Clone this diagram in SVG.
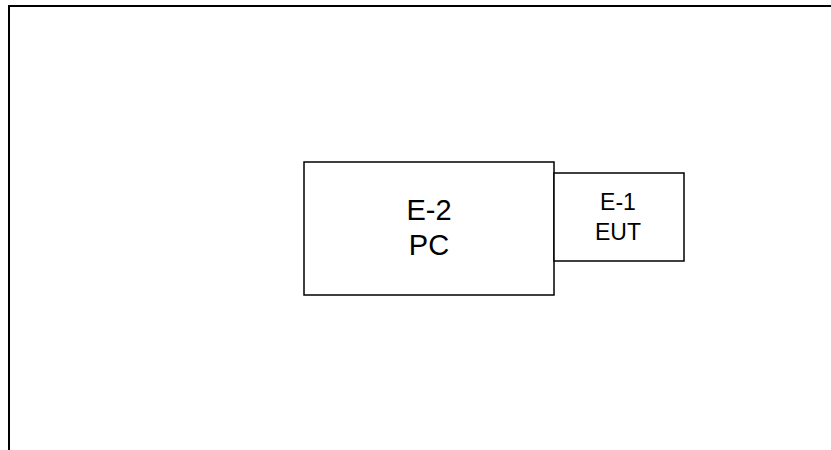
<svg xmlns="http://www.w3.org/2000/svg" width="831" height="450" viewBox="0 0 831 450">
<style>
.frame{fill:none;stroke:#000;stroke-width:2}
.box{fill:#fff;stroke:#000;stroke-width:1.5}
.t{font-family:"Liberation Sans",Arial,sans-serif;fill:#000;text-anchor:middle}
</style>
<rect width="831" height="450" fill="#fff"/>
<polyline class="frame" points="9,450 9,6 831,6"/>
<g id="pc">
<rect class="box" x="304" y="162" width="250" height="133"/>
<text class="t" x="429" y="220" font-size="29">E-2</text>
<text class="t" x="429" y="255" font-size="29">PC</text>
</g>
<g id="eut">
<rect class="box" x="554" y="173" width="130" height="88"/>
<text class="t" x="618" y="210" font-size="23">E-1</text>
<text class="t" x="618" y="240" font-size="23">EUT</text>
</g>
<g id="connectors"></g>
</svg>
